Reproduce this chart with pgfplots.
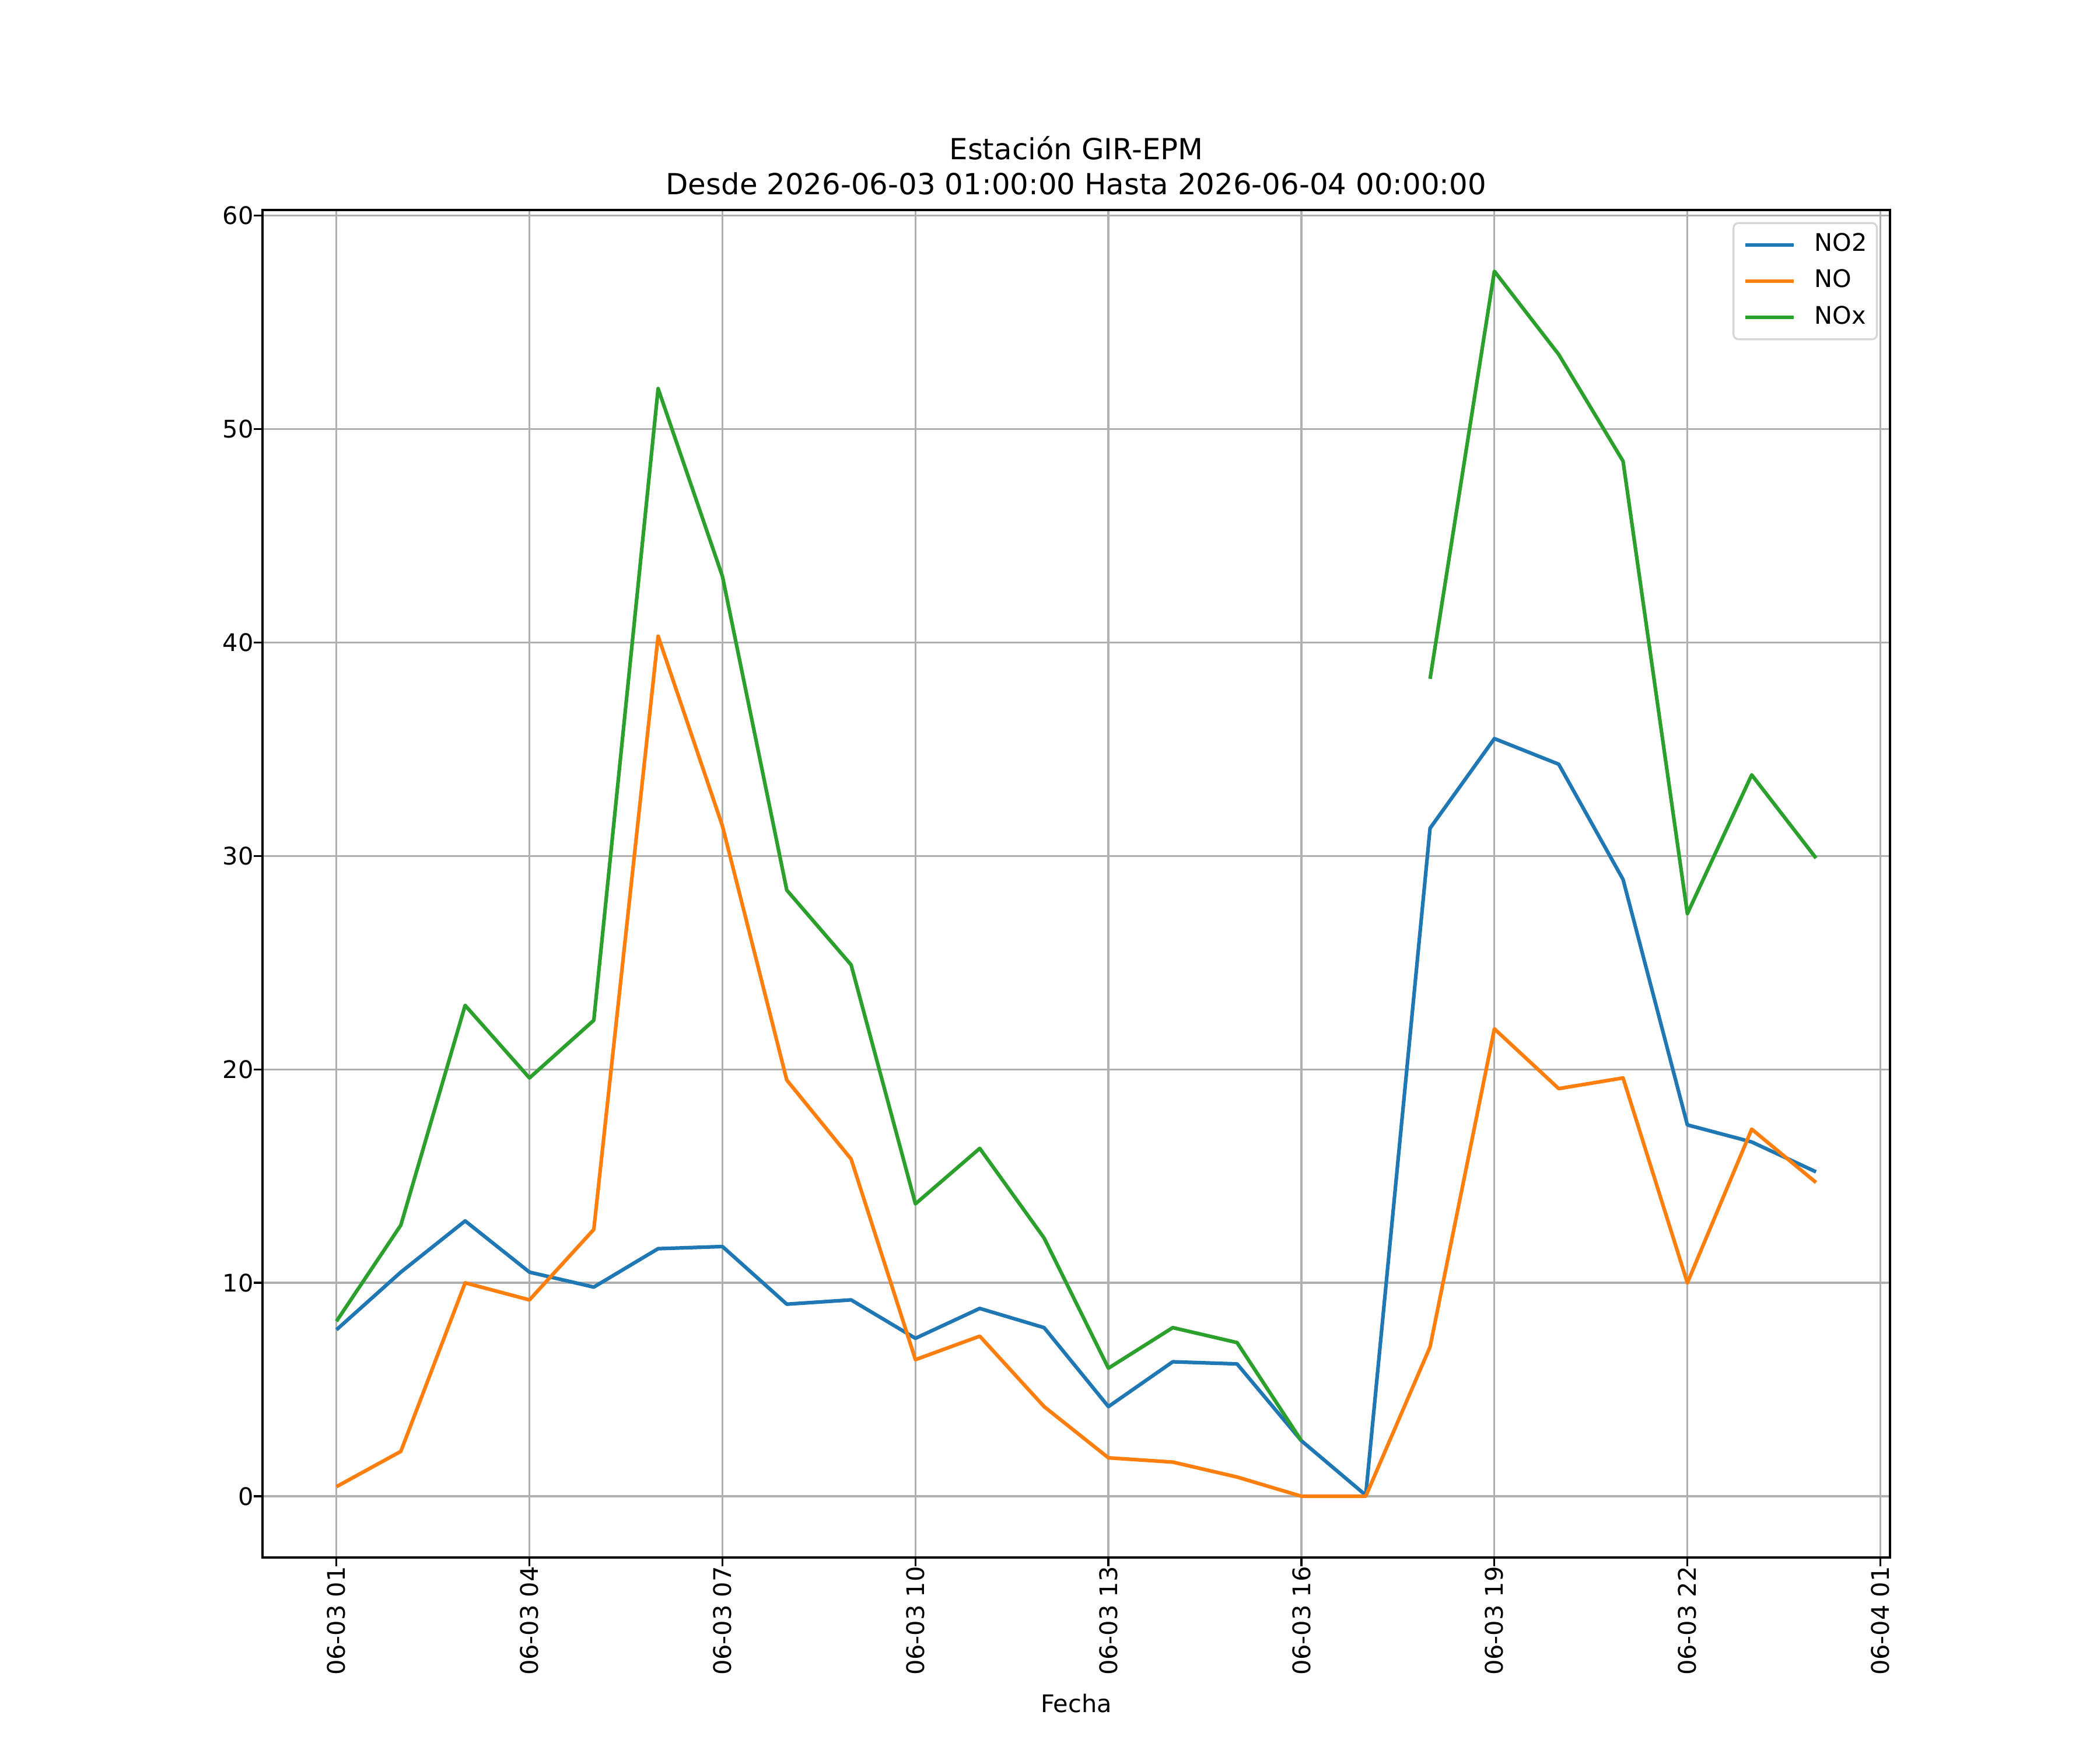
\documentclass[border=0pt]{standalone}
\usepackage{pgfplots}
\pgfplotsset{compat=1.18}
\usepackage{fontspec}
\setmainfont{DejaVu Sans}
\definecolor{tabblue}{HTML}{1F77B4}
\definecolor{taborange}{HTML}{FF7F0E}
\definecolor{tabgreen}{HTML}{2CA02C}
\definecolor{gridgray}{HTML}{B0B0B0}
\definecolor{legedge}{HTML}{D6D6D6}
\begin{document}
\fontsize{10}{12}\selectfont
\begin{tikzpicture}
\path[use as bounding box] (0,0) rectangle (12in,10in);
\begin{axis}[
  at={(1.5in,1.1in)}, anchor=south west,
  width=9.3in, height=7.7in, scale only axis,
  xmin=-1.15, xmax=24.15,
  ymin=-2.87, ymax=60.27,
  xtick={0,3,6,9,12,15,18,21,24},
  xticklabels={06-03 01,06-03 04,06-03 07,06-03 10,06-03 13,06-03 16,06-03 19,06-03 22,06-04 01},
  ytick={0,10,20,30,40,50,60},
  /pgf/number format/assume math mode=true,
  tick pos=left,
  tick align=outside,
  major tick length=3.5pt,
  every tick/.style={black, line width=0.8pt},
  axis line style={line width=0.8pt},
  grid=major,
  major grid style={color=gridgray, line width=0.8pt},
  xticklabel style={rotate=90, anchor=east, inner sep=0pt, font=\fontsize{10}{12}\selectfont},
  yticklabel style={anchor=east, inner sep=0pt, font=\fontsize{10}{12}\selectfont},
  unbounded coords=jump,
  legend style={at={(1,1)}, anchor=north east, xshift=-5pt, yshift=-5pt,
    draw=legedge, line width=0.8pt, rounded corners=2pt, fill=white,
    inner xsep=4pt, inner ysep=4pt, row sep=5pt, column sep=8pt,
    font=\fontsize{10}{12}\selectfont,
    nodes={inner sep=0pt, text height=7.6pt, text depth=2.4pt}},
  legend cell align=left,
  legend image code/.code={\draw[#1] (0pt,0pt) -- (20pt,0pt);},
  every axis plot/.append style={line width=1.5pt, line join=round},
]
\addplot[tabblue] coordinates {
(0,7.8) (1,10.5) (2,12.9) (3,10.5) (4,9.8) (5,11.6) (6,11.7) (7,9.0) (8,9.2) (9,7.4) (10,8.8) (11,7.9)
(12,4.2) (13,6.3) (14,6.2) (15,2.6) (16,0.05) (17,31.3) (18,35.5) (19,34.3) (20,28.9) (21,17.4) (22,16.6) (23,15.2)};
\addlegendentry{NO2}
\addplot[taborange] coordinates {
(0,0.45) (1,2.1) (2,10.0) (3,9.2) (4,12.5) (5,40.3) (6,31.4) (7,19.5) (8,15.8) (9,6.4) (10,7.5) (11,4.2)
(12,1.8) (13,1.6) (14,0.9) (15,0.0) (16,0.0) (17,7.0) (18,21.9) (19,19.1) (20,19.6) (21,10.0) (22,17.2) (23,14.7)};
\addlegendentry{NO}
\addplot[tabgreen] coordinates {
(0,8.2) (1,12.7) (2,23.0) (3,19.6) (4,22.3) (5,51.9) (6,43.1) (7,28.4) (8,24.9) (9,13.7) (10,16.3) (11,12.1)
(12,6.0) (13,7.9) (14,7.2) (15,2.6) (16,nan) (17,38.3) (18,57.4) (19,53.5) (20,48.5) (21,27.3) (22,33.8) (23,29.9)};
\addlegendentry{NOx}
\end{axis}
\node[anchor=base, inner sep=0pt, font=\fontsize{12}{14.4}\selectfont] at (6.15in, 642.4pt) {Desde 2026-06-03 01:00:00 Hasta 2026-06-04 00:00:00};
\node[anchor=base, inner sep=0pt, font=\fontsize{12}{14.4}\selectfont] at (6.15in, 656.7pt) {Estación GIR-EPM};
\node[anchor=base, inner sep=0pt] at (6.15in, 15.65pt) {Fecha};
\end{tikzpicture}
\end{document}
